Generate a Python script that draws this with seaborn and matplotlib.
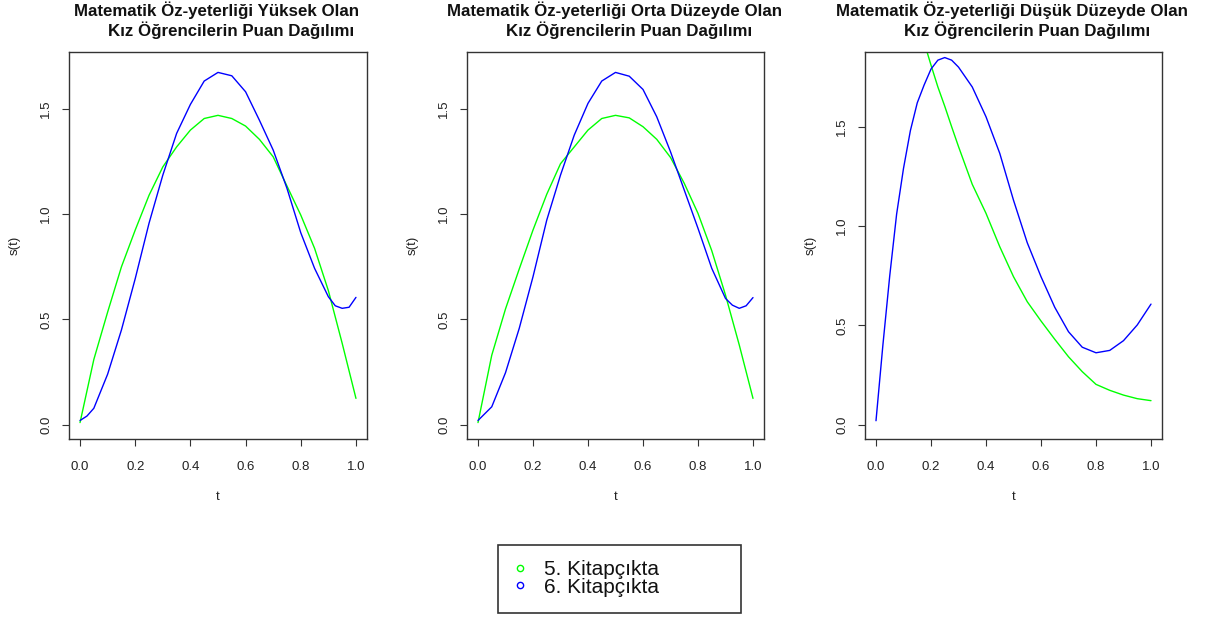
import pandas as pd
import matplotlib
matplotlib.use("Agg")
import matplotlib.pyplot as plt
from matplotlib.lines import Line2D
from matplotlib.ticker import FormatStrFormatter
import seaborn as sns

# ---- chart data -------------------------------------------------------------
panel_titles = [
    "Matematik Öz-yeterliği Yüksek Olan",
    "Matematik Öz-yeterliği Orta Düzeyde Olan",
    "Matematik Öz-yeterliği Düşük Düzeyde Olan",
]
title_second_line = "Kız Öğrencilerin Puan Dağılımı"
series_labels = ["5. Kitapçıkta", "6. Kitapçıkta"]
series_colors = ["#00FF00", "#0000FF"]
x_label = "t"
y_label = "s(t)"

x_ticks = [0.0, 0.2, 0.4, 0.6, 0.8, 1.0]
y_ticks = [0.0, 0.5, 1.0, 1.5]

# Panel 1: high self-efficacy
p1_t5 = [0.0, 0.05, 0.1, 0.15, 0.2, 0.25, 0.3, 0.35, 0.4, 0.45, 0.5,
         0.55, 0.6, 0.65, 0.7, 0.75, 0.8, 0.85, 0.9, 0.95, 1.0]
p1_s5 = [0.01, 0.31, 0.535, 0.75, 0.925, 1.09, 1.225, 1.32, 1.40, 1.455, 1.47,
         1.455, 1.419, 1.356, 1.273, 1.134, 0.996, 0.838, 0.637, 0.387, 0.125]
p1_t6 = [0.0, 0.025, 0.05, 0.1, 0.15, 0.2, 0.25, 0.3, 0.35, 0.4, 0.45, 0.5,
         0.55, 0.6, 0.65, 0.7, 0.75, 0.8, 0.85, 0.9, 0.925, 0.95, 0.975, 1.0]
p1_s6 = [0.02, 0.041, 0.078, 0.24, 0.45, 0.694, 0.957, 1.186, 1.384, 1.522, 1.633, 1.674,
         1.658, 1.582, 1.447, 1.305, 1.123, 0.912, 0.743, 0.608, 0.565, 0.553, 0.558, 0.605]

# Panel 2: medium self-efficacy
p2_t5 = [0.0, 0.05, 0.1, 0.15, 0.2, 0.25, 0.3, 0.35, 0.4, 0.45, 0.5,
         0.55, 0.6, 0.65, 0.7, 0.75, 0.8, 0.85, 0.9, 0.95, 1.0]
p2_s5 = [0.01, 0.33, 0.55, 0.74, 0.925, 1.095, 1.24, 1.32, 1.40, 1.455, 1.47,
         1.458, 1.416, 1.356, 1.27, 1.147, 1.004, 0.827, 0.616, 0.379, 0.125]
p2_t6 = [0.0, 0.05, 0.1, 0.15, 0.2, 0.25, 0.3, 0.35, 0.4, 0.45, 0.5,
         0.55, 0.6, 0.65, 0.7, 0.75, 0.8, 0.85, 0.9, 0.925, 0.95, 0.975, 1.0]
p2_s6 = [0.02, 0.085, 0.247, 0.458, 0.703, 0.972, 1.186, 1.376, 1.527, 1.633, 1.674,
         1.656, 1.593, 1.463, 1.297, 1.115, 0.933, 0.743, 0.60, 0.568, 0.553, 0.565, 0.604]

# Panel 3: low self-efficacy
p3_t5 = [0.15, 0.175, 0.2, 0.225, 0.25, 0.275, 0.3, 0.35, 0.4, 0.45, 0.5,
         0.55, 0.6, 0.65, 0.7, 0.75, 0.8, 0.85, 0.9, 0.95, 1.0]
p3_s5 = [2.04, 1.925, 1.81, 1.70, 1.603, 1.50, 1.40, 1.21, 1.064, 0.896, 0.745,
         0.619, 0.522, 0.43, 0.342, 0.267, 0.203, 0.173, 0.149, 0.131, 0.121]
p3_t6 = [0.0, 0.025, 0.05, 0.075, 0.1, 0.125, 0.15, 0.175, 0.2, 0.225, 0.25, 0.275,
         0.3, 0.35, 0.4, 0.45, 0.5, 0.55, 0.6, 0.65, 0.7, 0.75, 0.8, 0.85, 0.9, 0.95, 1.0]
p3_s6 = [0.02, 0.40, 0.75, 1.06, 1.29, 1.48, 1.62, 1.71, 1.79, 1.835, 1.848, 1.835,
         1.80, 1.70, 1.55, 1.366, 1.13, 0.916, 0.745, 0.591, 0.468, 0.39, 0.362, 0.374,
         0.423, 0.502, 0.607]

panel_series = [
    ((p1_t5, p1_s5), (p1_t6, p1_s6)),
    ((p2_t5, p2_s5), (p2_t6, p2_s6)),
    ((p3_t5, p3_s5), (p3_t6, p3_s6)),
]
panel_ylims = [(-0.068, 1.771), (-0.068, 1.771), (-0.072, 1.876)]

# ---- styling ----------------------------------------------------------------
sns.set_theme(style="ticks", rc={
    "axes.edgecolor": "#333333",
    "axes.linewidth": 1.0,
    "xtick.color": "#333333",
    "ytick.color": "#333333",
})
plt.rcParams["font.family"] = ["Liberation Sans", "DejaVu Sans"]

W, H = 1211, 619
fig = plt.figure(figsize=(W / 100, H / 100), dpi=100)

axes_px = [(69, 298), (467, 297), (865, 297)]   # left edge, width (px)
top_px, bottom_px = 52, 439
h = bottom_px - top_px

palette = dict(zip(series_labels, series_colors))

for (left, width), series, ylim, title in zip(axes_px, panel_series, panel_ylims, panel_titles):
    ax = fig.add_axes([left / W, 1 - bottom_px / H, width / W, h / H])

    frames = []
    for label, (tt, ss) in zip(series_labels, series):
        frames.append(pd.DataFrame({"t": tt, "s": ss, "kitapcik": label}))
    df = pd.concat(frames, ignore_index=True)

    sns.lineplot(data=df, x="t", y="s", hue="kitapcik", hue_order=series_labels,
                 palette=palette, estimator=None, linewidth=1.0, legend=False, ax=ax)

    ax.set_xlim(-0.04, 1.04)
    ax.set_ylim(*ylim)
    ax.set_xticks(x_ticks)
    ax.set_yticks(y_ticks)
    ax.xaxis.set_major_formatter(FormatStrFormatter("%.1f"))
    ax.yaxis.set_major_formatter(FormatStrFormatter("%.1f"))
    ax.tick_params(axis="both", direction="out", length=5.0, width=0.8,
                   labelsize=9.5, labelcolor="#222222")
    ax.tick_params(axis="x", pad=10.5)
    ax.tick_params(axis="y", pad=7.0, labelrotation=90)
    for lab in ax.get_yticklabels():
        lab.set_va("center")

    for sp in ax.spines.values():
        sp.set_visible(True)
        sp.set_color("#333333")
        sp.set_linewidth(1.0)

    ax.set_xlabel(x_label, fontsize=9.5, color="#222222")
    ax.set_ylabel(y_label, fontsize=9.5, color="#222222")
    ax.xaxis.label.set_va("center")
    ax.yaxis.label.set_va("center")
    ax.xaxis.set_label_coords(0.5, -(497 - bottom_px) / h)
    ax.yaxis.set_label_coords(-54 / width, 0.5)

    ax.text(0.495, 1 + (top_px - 16) / h, title, transform=ax.transAxes,
            ha="center", va="baseline", fontsize=12.2, fontweight="bold", color="#111111")
    ax.text(0.545, 1 + (top_px - 36) / h, title_second_line, transform=ax.transAxes,
            ha="center", va="baseline", fontsize=12.2, fontweight="bold", color="#111111")

# ---- shared legend ------------------------------------------------------------
handles = [Line2D([], [], linestyle="none", marker="o", markersize=4.5,
                  markerfacecolor="none", markeredgecolor=c, markeredgewidth=1.0)
           for c in series_colors]
leg = fig.legend(handles, series_labels, loc="center",
                 bbox_to_anchor=(498 / W, 1 - 612 / H, 243 / W, 67 / H),
                 mode="expand", borderaxespad=0, fontsize=15,
                 frameon=True, fancybox=False, borderpad=0.76, labelspacing=-0.08,
                 handlelength=0.6, handletextpad=0.85)
leg.get_frame().set_edgecolor("black")
leg.get_frame().set_linewidth(1.2)
for txt in leg.get_texts():
    txt.set_color("#111111")

fig.savefig("out.png", dpi=100)
